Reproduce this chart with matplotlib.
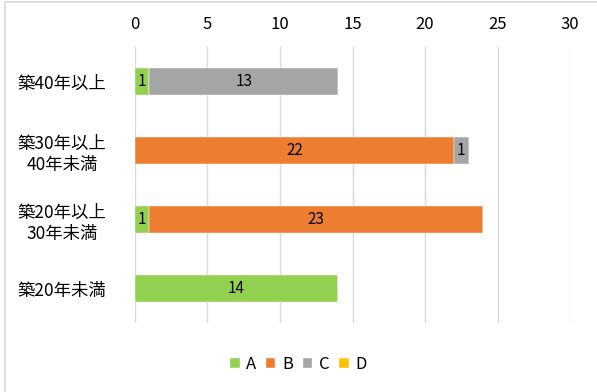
import matplotlib
matplotlib.use("Agg")
import matplotlib.pyplot as plt
import numpy as np
from matplotlib.patches import Rectangle

plt.rcParams['font.family'] = ['Noto Sans CJK JP', 'DejaVu Sans']

categories = ['築40年以上', '築30年以上\n40年未満', '築20年以上\n30年未満', '築20年未満']
series = ['A', 'B', 'C', 'D']
values_a = [1, 0, 1, 14]
values_b = [0, 22, 23, 0]
values_c = [13, 1, 0, 0]
values_d = [0, 0, 0, 0]
colors = ['#92D050', '#ED7D31', '#A5A5A5', '#FFC000']

fig = plt.figure(figsize=(5.97, 3.92), dpi=100)
ax = fig.add_axes([0.226, 0.176, 0.729, 0.704])

# chart border
fig.patches.append(Rectangle((0.008, -0.05), 1.1, 1.045, transform=fig.transFigure,
                             fill=False, edgecolor='#D9D9D9', linewidth=1.2))

y = np.arange(len(categories))
left = np.zeros(len(categories))
for name, vals, color in zip(series, [values_a, values_b, values_c, values_d], colors):
    vals = np.array(vals, dtype=float)
    bars = ax.barh(y, vals, left=left, height=0.4, color=color, label=name,
                   edgecolor='white', linewidth=0.3, zorder=3)
    for b, v in zip(bars, vals):
        if v > 0:
            ax.text(b.get_x() + b.get_width() / 2, b.get_y() + b.get_height() / 2,
                    f'{int(v)}', ha='center', va='center', fontsize=11, color='#000000',
                    zorder=4)
    left += vals

ax.set_ylim(len(categories) - 0.5, -0.5)
ax.set_xlim(0, 30)
ax.set_xticks(range(0, 31, 5))
ax.set_yticks(y)
ax.set_yticklabels(categories, fontsize=12.5, linespacing=1.25)
ax.xaxis.tick_top()
ax.tick_params(axis='x', length=0, labelsize=12, pad=10)
ax.tick_params(axis='y', length=0)
for lbl in ax.get_yticklabels():
    lbl.set_horizontalalignment('center')
    lbl.set_x(-0.156)
ax.grid(axis='x', color='#D9D9D9', linewidth=1, zorder=0)
for s in ax.spines.values():
    s.set_visible(False)

ax.legend(loc='center', bbox_to_anchor=(0.5, 0.07), bbox_transform=fig.transFigure,
          ncol=4, frameon=False, fontsize=12, handlelength=0.55, handleheight=0.55,
          handletextpad=0.4, columnspacing=0.6)

fig.savefig('out.png', dpi=100)
